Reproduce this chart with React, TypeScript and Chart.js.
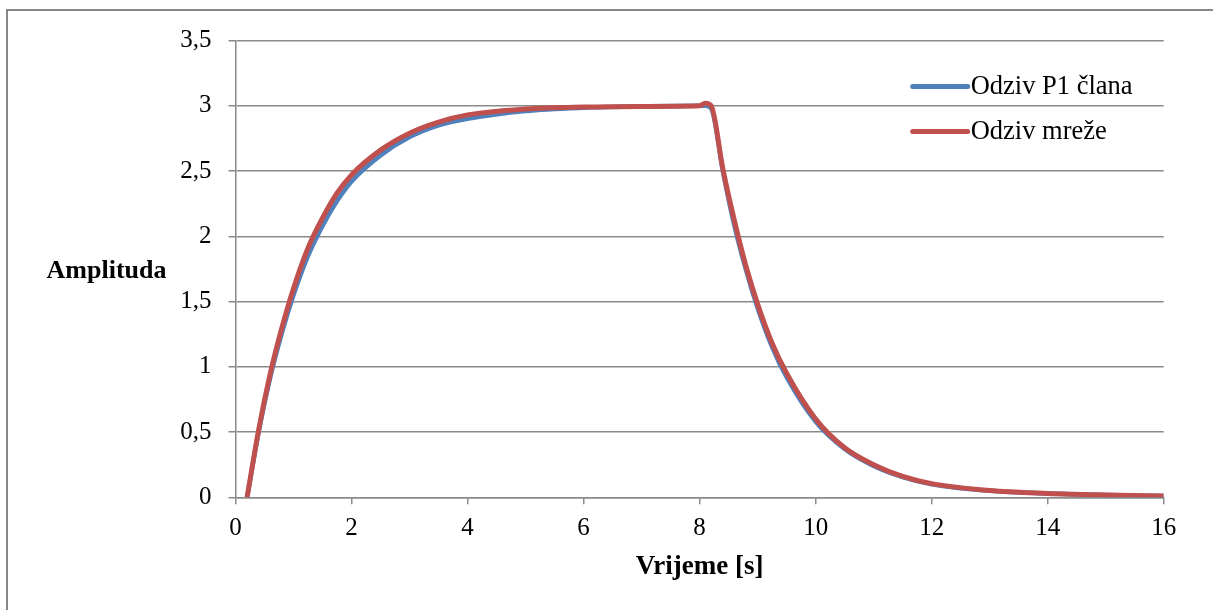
import { useEffect, useRef } from "react";
import { Chart, registerables } from "chart.js";

Chart.register(...registerables);

const time = [0.2, 0.4, 0.6, 0.8, 1.0, 1.25, 1.5, 1.75, 2.0, 2.5, 3.0, 3.5, 4.0, 5.0, 6.0, 7.0, 8.0, 8.1, 8.2, 8.4, 8.6, 8.8, 9.0, 9.25, 9.5, 10.0, 10.5, 11.0, 11.5, 12.0, 13.0, 14.0, 15.0, 16.0];
const odzivP1 = [0, 0.5, 0.92, 1.26, 1.55, 1.85, 2.08, 2.27, 2.42, 2.62, 2.76, 2.85, 2.9, 2.96, 2.985, 2.995, 3.0, 3.0, 2.98, 2.5, 2.08, 1.74, 1.45, 1.15, 0.92, 0.58, 0.37, 0.24, 0.155, 0.1, 0.05, 0.03, 0.018, 0.01];
const odzivMreze = [0, 0.52, 0.95, 1.3, 1.6, 1.91, 2.14, 2.33, 2.47, 2.66, 2.79, 2.875, 2.93, 2.975, 2.99, 2.995, 3.0, 3.02, 3.0, 2.52, 2.12, 1.77, 1.48, 1.18, 0.95, 0.6, 0.38, 0.25, 0.16, 0.105, 0.052, 0.03, 0.018, 0.01];
const seriesLabels = ["Odziv P1 člana", "Odziv mreže"];
const xTitle = "Vrijeme [s]";
const yTitle = "Amplituda";

const W = 1213;
const H = 610;
const GRID = "#8a8a8a";
const FONT = '"Liberation Serif", "Times New Roman", serif';

const decorPlugin = {
  id: "decor",
  beforeDraw(chart: any) {
    const ctx = chart.ctx;
    ctx.save();
    ctx.fillStyle = "#ffffff";
    ctx.fillRect(0, 0, chart.width, chart.height);
    ctx.strokeStyle = "#878787";
    ctx.lineWidth = 2;
    ctx.beginPath();
    ctx.moveTo(7, chart.height + 5);
    ctx.lineTo(7, 10);
    ctx.lineTo(chart.width + 5, 10);
    ctx.stroke();
    ctx.restore();
  },
  afterDraw(chart: any) {
    const { ctx, chartArea } = chart;
    ctx.save();
    ctx.fillStyle = "#000";
    ctx.font = `bold 26px ${FONT}`;
    ctx.textAlign = "center";
    ctx.textBaseline = "middle";
    ctx.fillText(yTitle, chartArea.left - 129, (chartArea.top + chartArea.bottom) / 2 + 2);
    ctx.font = `bold 27px ${FONT}`;
    ctx.fillText(xTitle, (chartArea.left + chartArea.right) / 2, chartArea.bottom + 70);
    ctx.font = `26.5px ${FONT}`;
    ctx.textAlign = "left";
    chart.data.datasets.forEach((ds: any, i: number) => {
      const y = chartArea.top + 46 + i * 45;
      const x0 = chartArea.right - 251;
      ctx.strokeStyle = ds.borderColor;
      ctx.lineWidth = 5;
      ctx.lineCap = "round";
      ctx.beginPath();
      ctx.moveTo(x0, y);
      ctx.lineTo(x0 + 55, y);
      ctx.stroke();
      ctx.fillText(ds.label, x0 + 58, y + 1);
    });
    ctx.restore();
  },
};

export default function App() {
  const ref = useRef<HTMLCanvasElement>(null);
  useEffect(() => {
    if (!ref.current) return;
    const chart = new Chart(ref.current, {
      type: "line",
      data: {
        datasets: [
          {
            label: seriesLabels[0],
            data: time.map((t, i) => ({ x: t, y: odzivP1[i] })),
            borderColor: "#4F81BD",
            borderWidth: 4.5,
            pointRadius: 0,
            cubicInterpolationMode: "monotone",
            order: 2,
          },
          {
            label: seriesLabels[1],
            data: time.map((t, i) => ({ x: t, y: odzivMreze[i] })),
            borderColor: "#C0504D",
            borderWidth: 5,
            pointRadius: 0,
            cubicInterpolationMode: "monotone",
            order: 1,
          },
        ],
      },
      options: {
        animation: false,
        responsive: false,
        layout: { padding: { left: 0, top: 40.5, right: 49.3, bottom: 0 } },
        plugins: { legend: { display: false }, tooltip: { enabled: false } },
        scales: {
          x: {
            type: "linear",
            min: 0,
            max: 16,
            afterFit: (s: any) => {
              s.height = 112.7;
            },
            ticks: {
              stepSize: 2,
              padding: 9,
              color: "#000",
              font: { family: FONT, size: 25 },
              maxRotation: 0,
            },
            grid: { drawOnChartArea: false, color: GRID, lineWidth: 1.5, tickLength: 7 },
            border: { color: GRID, width: 1.5 },
          },
          y: {
            min: 0,
            max: 3.5,
            afterFit: (s: any) => {
              s.width = 235.5;
            },
            ticks: {
              stepSize: 0.5,
              padding: 17,
              color: "#000",
              font: { family: FONT, size: 25 },
              callback: (v: any) => String(v).replace(".", ","),
            },
            grid: { color: GRID, lineWidth: 1.5, tickLength: 7 },
            border: { color: GRID, width: 1.5 },
          },
        },
      },
      plugins: [decorPlugin],
    });
    return () => chart.destroy();
  }, []);
  return (
    <div style={{ position: "absolute", left: 0, top: 0, width: W, height: H }}>
      <canvas ref={ref} width={W} height={H} style={{ display: "block" }} />
    </div>
  );
}
